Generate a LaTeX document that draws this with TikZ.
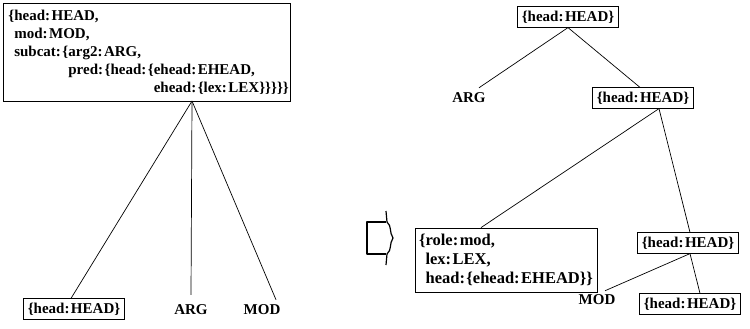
\documentclass[tikz,border=0pt]{standalone}
\usepackage{fontspec}
\setmainfont{Liberation Serif}
\newcommand{\cln}{:\kern1.5pt}
\begin{document}
\begin{tikzpicture}[x=1pt,y=-1pt,
  every node/.style={font=\bfseries\fontsize{15}{18}\selectfont, inner sep=0pt},
  fbox/.style={draw, line width=0.8pt, inner xsep=4pt, inner ysep=4pt},
  edge/.style={line width=0.7pt},
  arrowshape/.style={line width=1.2pt, line join=round}]
\useasboundingbox (0,0) rectangle (750,329);

% ---------- left tree ----------
\node[fbox, anchor=north west, align=left, minimum width=287pt, minimum height=98pt,
      text width=277pt] (big) at (3,3)
 {\{head\cln HEAD,\\
  \phantom{\{}mod\cln MOD,\\
  \phantom{\{}subcat\cln\{arg2\cln ARG,\\
  \phantom{\{subcat\cln\{}pred\cln\{head\cln\{ehead\cln EHEAD,\\
  \phantom{\{subcat\cln\{pred\cln\{head\cln\{}ehead\cln\{lex\cln LEX\}\}\}\}\}};
\coordinate (apex) at (192,101);
\node[fbox] (hb1) at (74,309) {\{head\cln HEAD\}};
\node (argL) at (191,310) {ARG};
\node (modL) at (262,310) {MOD};
\draw[edge] (apex) -- ([xshift=-3pt]hb1.north);
\draw[edge] (apex) -- ([yshift=10pt]argL.north);
\draw[edge] (apex) -- ([xshift=14pt,yshift=5pt]modL.north);

% ---------- arrow ----------
\draw[arrowshape] (386,222) -- (367,222) -- (367,254) -- (386,254);
\draw[arrowshape] (386,211) -- (387,222) .. controls (392,226) and (389,232) .. (393,238)
   .. controls (389,244) and (392,250) .. (387,254) -- (386,265);

% ---------- right tree ----------
\node[fbox] (topR) at (568,17) {\{head\cln HEAD\}};
\node (argR) at (469,98) {ARG};
\node[fbox] (mid1) at (643,98) {\{head\cln HEAD\}};
\node[fbox, align=left, font=\bfseries\fontsize{16.5}{19}\selectfont, minimum height=64pt] (role) at (506,260)
 {\{role\cln mod,\\
  \phantom{\{}lex\cln LEX,\\
  \phantom{\{}head\cln\{ehead\cln EHEAD\}\}};
\node[fbox] (mid2) at (688,243) {\{head\cln HEAD\}};
\node (modR) at (597,300) {MOD};
\node[fbox] (bot) at (690,304) {\{head\cln HEAD\}};

\draw[edge] (topR.south) -- ([xshift=10pt,yshift=5pt]argR.north);
\draw[edge] (topR.south) -- ([xshift=-3pt]mid1.north);
\draw[edge] ([xshift=16pt]mid1.south) -- ([xshift=-25pt]role.north);
\draw[edge] ([xshift=16pt]mid1.south) -- ([xshift=2pt]mid2.north);
\draw[edge] ([xshift=2pt]mid2.south) -- ([xshift=8pt,yshift=4pt]modR.north);
\draw[edge] ([xshift=2pt]mid2.south) -- ([xshift=10pt]bot.north);
\end{tikzpicture}
\end{document}
